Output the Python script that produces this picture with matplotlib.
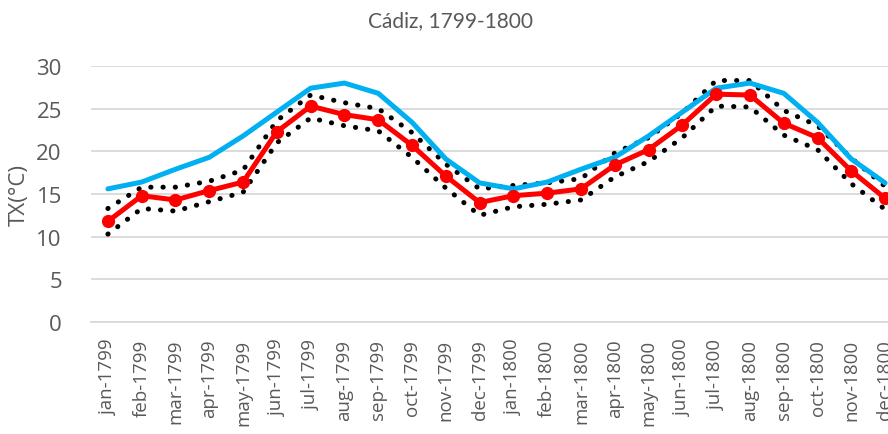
import numpy as np
import matplotlib
matplotlib.use("Agg")
import matplotlib.pyplot as plt

months = ["jan", "feb", "mar", "apr", "may", "jun",
          "jul", "aug", "sep", "oct", "nov", "dec"]
labels = [m + "-1799" for m in months] + [m + "-1800" for m in months]

# monthly TX values
tx = [11.8, 14.8, 14.3, 15.4, 16.4, 22.3, 25.3, 24.3, 23.7, 20.7, 17.1, 14.0,
      14.8, 15.1, 15.6, 18.4, 20.2, 23.1, 26.7, 26.6, 23.3, 21.6, 17.7, 14.5]
tx_upper = [13.3, 15.8, 15.8, 16.5, 17.8, 23.6, 26.6, 25.7, 25.0, 22.2, 18.5, 15.6,
            16.0, 16.3, 16.8, 19.8, 21.6, 24.5, 28.3, 28.3, 24.8, 23.0, 19.2, 15.9]
tx_lower = [10.3, 13.3, 13.0, 14.1, 15.2, 21.0, 23.9, 23.0, 22.4, 19.3, 15.7, 12.5,
            13.5, 13.8, 14.3, 17.0, 18.8, 21.6, 25.3, 25.2, 21.9, 20.2, 16.2, 13.2]
tx_clim = [15.6, 16.4, 17.9, 19.3, 21.8, 24.6, 27.4, 28.0, 26.8, 23.4, 19.1, 16.3,
           15.6, 16.4, 17.9, 19.3, 21.8, 24.6, 27.4, 28.0, 26.8, 23.4, 19.1, 16.3]

x = np.arange(len(labels))
grey = "#595959"

fig = plt.figure(figsize=(8.88, 4.35), dpi=100)
ax = fig.add_axes([91/888, 112/435, 811/888, 256/435])

ax.plot(x, tx_clim, color="#00b0f0", lw=3.6, solid_capstyle="round", zorder=3)
ax.plot(x, tx_upper, color="black", lw=3.6, ls=(0, (0.05, 2.4)),
        dash_capstyle="round", zorder=2)
ax.plot(x, tx_lower, color="black", lw=3.6, ls=(0, (0.05, 2.4)),
        dash_capstyle="round", zorder=2)
ax.plot(x, tx, color="#ff0000", lw=3.6, marker="o", ms=8.5, zorder=4)

ax.set_xlim(-0.5, len(labels) - 0.5)
ax.set_ylim(0, 30)
ax.set_yticks(range(0, 31, 5))
ax.set_xticks(x)
ax.set_xticklabels(labels, rotation=90, fontsize=13.5, color=grey,
                   family="Open Sans")
ax.tick_params(axis="y", labelsize=16, labelcolor=grey, length=0, pad=21)
ax.tick_params(axis="x", length=0, pad=12)
for t in ax.get_yticklabels():
    t.set_family("Open Sans")

ax.grid(axis="y", color="#d9d9d9", lw=1.3)
ax.set_axisbelow(True)
for s in ["top", "right", "left"]:
    ax.spines[s].set_visible(False)
ax.spines["bottom"].set_color("#d9d9d9")
ax.spines["bottom"].set_linewidth(1.3)

ax.set_ylabel("TX(°C)", fontsize=16, color=grey, family="Open Sans", labelpad=5)
fig.text(0.507, 0.952, "Cádiz, 1799-1800", ha="center", va="center",
         fontsize=15, color=grey, family="Lato")

fig.savefig("out.png", dpi=100)
